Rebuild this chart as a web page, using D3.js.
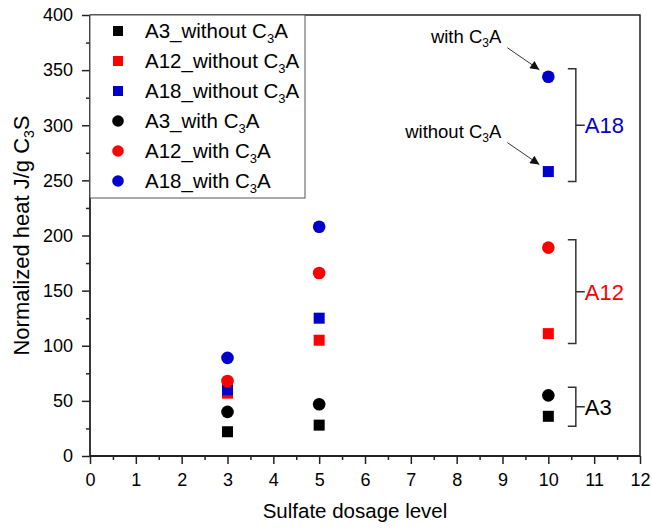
<!DOCTYPE html>
<html>
<head>
<meta charset="utf-8">
<script src="https://cdn.jsdelivr.net/npm/d3@7/dist/d3.min.js"></script>
<style>
  body { margin: 0; background: #fff; }
  svg { display: block; font-family: Arial, "Liberation Sans", sans-serif; }
</style>
</head>
<body>
<div id="chart"></div>
<script>
// sulfate dosage levels
const dosages = [3, 5, 10];

// series (J/g C3S)
const a3Without = [22, 28, 36];
const a12Without = [57, 105, 111];
const a18Without = [60, 125, 258];
const a3With = [40, 47, 55];
const a12With = [68, 166, 189];
const a18With = [89, 208, 344];

const seriesNames = ["A3_without ", "A12_without ", "A18_without ", "A3_with ", "A12_with ", "A18_with "];
const seriesColors = ["#000000", "#ff0000", "#0000cd", "#000000", "#ff0000", "#0000cd"];
const seriesShapes = ["square", "square", "square", "circle", "circle", "circle"];
const seriesValues = [a3Without, a12Without, a18Without, a3With, a12With, a18With];

const xTicks = d3.range(0, 13);
const yTicks = d3.range(0, 401, 50);

// group brackets at dosage 10
const groupNames = ["A18", "A12", "A3"];
const groupColors = ["#0000cd", "#ff0000", "#000000"];
const groupRanges = [[a18Without[2], a18With[2]], [a12Without[2], a12With[2]], [a3Without[2], a3With[2]]];

const width = 652;
const height = 529;
const margin = { top: 15, right: 12, bottom: 73, left: 90 };

const x = d3.scaleLinear().domain([0, 12]).range([margin.left, width - margin.right]);
const y = d3.scaleLinear().domain([0, 400]).range([height - margin.bottom, margin.top]);

const svg = d3.select("#chart").append("svg")
  .attr("width", width)
  .attr("height", height);

const axisColor = "#222";

// frame (top + right)
svg.append("path")
  .attr("d", `M${x(0)},${y(400)}H${x(12)}V${y(0)}`)
  .attr("fill", "none")
  .attr("stroke", axisColor)
  .attr("stroke-width", 1.5);

// x axis
const xAxis = svg.append("g")
  .attr("transform", `translate(0,${y(0)})`)
  .call(d3.axisBottom(x).tickValues(xTicks).tickFormat(d3.format("d")).tickSize(8).tickPadding(9));
svg.append("g")
  .attr("transform", `translate(0,${y(0)})`)
  .call(d3.axisBottom(x).tickValues(d3.range(0.5, 12, 1)).tickFormat("").tickSize(4))
  .call((g) => g.select(".domain").remove());

// y axis
const yAxis = svg.append("g")
  .attr("transform", `translate(${x(0)},0)`)
  .call(d3.axisLeft(y).tickValues(yTicks).tickSize(8).tickPadding(9));
svg.append("g")
  .attr("transform", `translate(${x(0)},0)`)
  .call(d3.axisLeft(y).tickValues(d3.range(25, 400, 50)).tickFormat("").tickSize(4))
  .call((g) => g.select(".domain").remove());

svg.selectAll(".domain").attr("stroke", axisColor).attr("stroke-width", 1.8);
svg.selectAll(".tick line").attr("stroke", axisColor).attr("stroke-width", 1.5);
svg.selectAll(".tick text").attr("font-size", 18).attr("fill", "#000").attr("font-family", "Arial, 'Liberation Sans', sans-serif");
xAxis.selectAll(".domain").attr("d", `M${x(0)},0H${x(12)}`);
yAxis.selectAll(".domain").attr("d", `M0,${y(0)}V${y(400)}`);

// axis titles
svg.append("text")
  .attr("x", 355)
  .attr("y", 518)
  .attr("text-anchor", "middle")
  .attr("font-size", 20.5)
  .text("Sulfate dosage level");

const yTitle = svg.append("text")
  .attr("transform", `translate(29,${(y(0) + y(400)) / 2}) rotate(-90)`)
  .attr("text-anchor", "middle")
  .attr("font-size", 22);
yTitle.append("tspan").text("Normalized heat J/g C");
yTitle.append("tspan").attr("font-size", 14).attr("dy", 5).text("3");
yTitle.append("tspan").attr("dy", -5).text("S");

// markers
function drawMarker(g, shape, color, size) {
  if (shape === "square") {
    g.append("rect")
      .attr("x", -size / 2).attr("y", -size / 2)
      .attr("width", size).attr("height", size)
      .attr("fill", color);
  } else {
    g.append("circle").attr("r", size / 2 + 0.8).attr("fill", color);
  }
}

seriesValues.forEach((vals, i) => {
  const g = svg.append("g");
  vals.forEach((v, j) => {
    const m = g.append("g").attr("transform", `translate(${x(dosages[j])},${y(v)})`);
    drawMarker(m, seriesShapes[i], seriesColors[i], 11);
  });
});

// legend
const legend = svg.append("g");
legend.append("rect")
  .attr("x", x(0)).attr("y", y(400))
  .attr("width", 215).attr("height", 183)
  .attr("fill", "#fff")
  .attr("stroke", "#555")
  .attr("stroke-width", 1);
seriesNames.forEach((name, i) => {
  const ly = 31 + i * 30;
  const m = legend.append("g").attr("transform", `translate(118,${ly})`);
  drawMarker(m, seriesShapes[i], seriesColors[i], 10);
  const t = legend.append("text")
    .attr("x", 145).attr("y", ly + 7)
    .attr("font-size", 20.5);
  t.append("tspan").text(name + "C");
  t.append("tspan").attr("font-size", 13).attr("dy", 5).text("3");
  t.append("tspan").attr("dy", -5).text("A");
});

// arrows to the A18 points at dosage 10
svg.append("defs").append("marker")
  .attr("id", "arrow")
  .attr("viewBox", "0 0 10 10")
  .attr("refX", 10).attr("refY", 5)
  .attr("markerWidth", 10).attr("markerHeight", 9)
  .attr("markerUnits", "userSpaceOnUse")
  .attr("orient", "auto")
  .append("path")
  .attr("d", "M0,0L10,5L0,10Z")
  .attr("fill", "#111");

const arrowNotes = [["with ", a18With[2]], ["without ", a18Without[2]]];
arrowNotes.forEach(([label, v]) => {
  const px = x(dosages[2]);
  const py = y(v);
  svg.append("line")
    .attr("x1", px - 41).attr("y1", py - 29)
    .attr("x2", px - 9).attr("y2", py - 7)
    .attr("stroke", "#333")
    .attr("stroke-width", 1)
    .attr("marker-end", "url(#arrow)");
  const t = svg.append("text")
    .attr("x", px - 47).attr("y", py - 34)
    .attr("text-anchor", "end")
    .attr("font-size", 18.5);
  t.append("tspan").text(label + "C");
  t.append("tspan").attr("font-size", 12).attr("dy", 4).text("3");
  t.append("tspan").attr("dy", -4).text("A");
});

// brackets
const bx = x(10.6);
groupNames.forEach((name, i) => {
  const [lo, hi] = groupRanges[i];
  const top = y(hi) - 8;
  const bot = y(lo) + 10;
  const mid = (top + bot) / 2;
  svg.append("path")
    .attr("d", `M${bx - 8},${top}H${bx}V${bot}H${bx - 8}M${bx},${mid}H${bx + 9}`)
    .attr("fill", "none")
    .attr("stroke", "#333")
    .attr("stroke-width", 1.5);
  svg.append("text")
    .attr("x", bx + 9).attr("y", mid + 8)
    .attr("font-size", 22)
    .attr("fill", groupColors[i])
    .text(name);
});
</script>
</body>
</html>
